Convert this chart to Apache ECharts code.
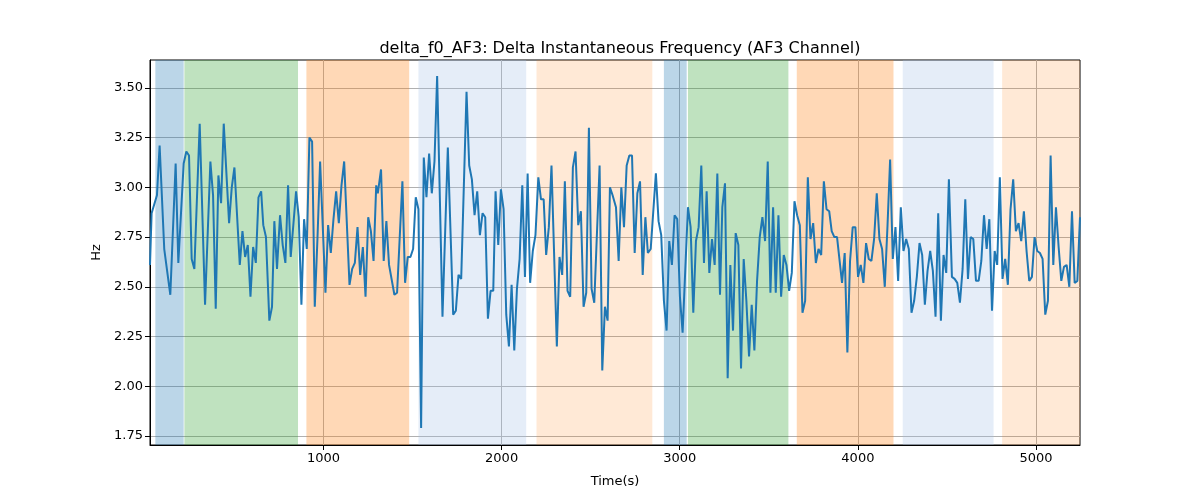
<!DOCTYPE html>
<html><head><meta charset="utf-8">
<script src="https://cdn.jsdelivr.net/npm/echarts@6/dist/echarts.min.js"></script>
<style>html,body{margin:0;padding:0;background:#fff}#c{width:1200px;height:500px}</style>
</head><body><div id="c"></div>
<script>
const times = [26,35,65,80,106,140,170,185,215,230,245,260,275,305,335,365,380,395,410,425,440,470,485,500,530,545,560,575,590,605,620,635,650,
662,677,696,711,724,739,756,771,786,801,816,846,861,876,891,906,921,936,951,966,981,1011,1026,1041,1056,1071,1086,1101,1116,1146,1161,1176,1191,1206,1221,1236,1251,1266,1281,1296,
1305,1323,1338,1353,1368,1398,1413,1443,1458,1473,1488,1503,1518,1533,1548,1563,1578,1593,1608,1623,1638,1668,1698,1728,1743,1758,1773,1803,1818,1833,1848,1863,1878,1893,1908,1923,1938,1953,
1966,1981,1996,2011,2026,2041,2056,2071,2086,2101,2116,2131,2146,2160,2175,2190,2206,2221,2236,2250,2265,2280,2310,2325,2340,2355,2370,2385,2400,2415,2430,2445,2460,2475,2490,2505,2520,2550,2565,2580,2595,
2608,2623,2642,2657,2672,2687,2702,2717,2732,2747,2762,2777,2792,2807,2821,2837,2866,2881,2896,2911,2926,2941,2956,2971,2986,3001,3016,3046,3061,3076,3091,3106,3121,3136,3151,3166,3181,3196,3211,3226,
3239,3254,3269,3284,3299,3314,3329,3344,3359,3374,3389,3404,3419,3434,3449,3464,3479,3494,3509,3524,3539,3554,3569,3584,3599,3614,3629,3644,3659,3674,3689,3704,3719,3734,3749,3764,3779,3794,3809,3824,3839,3853,3868,3883,
3893,3911,3926,3941,3956,3971,3986,4001,4016,4031,4046,4061,4076,4091,4106,4121,4136,4151,4166,4181,4196,4211,4226,4241,4256,4271,4286,4301,4316,4331,4346,4361,4376,4391,4406,4421,4436,4451,4466,4481,4496,4511,
4528,4543,4558,4573,4588,4603,4618,4633,4648,4663,4678,4693,4708,4723,4738,4753,4768,4782,4797,4812,4827,4842,4857,4872,4887,4902,4917,4932,4947,4962,4977,4992,5007,5022,5037,5052,5067,5082,5097,5112,5127,5142,5157,5172,5187,5202,5217,5232,5247];
const values = [2.61,2.87,2.96,3.21,2.69,2.46,3.12,2.62,3.12,3.18,3.16,2.64,2.59,3.32,2.41,3.13,2.96,2.39,3.06,2.92,3.32,2.82,3.00,3.10,2.61,2.78,2.65,2.71,2.45,2.70,2.62,2.95,2.98,
2.81,2.75,2.33,2.40,2.83,2.59,2.86,2.71,2.62,3.01,2.65,2.98,2.85,2.41,2.84,2.69,3.25,3.23,2.40,2.74,3.13,2.47,2.81,2.67,2.84,2.98,2.82,3.01,3.13,2.51,2.59,2.62,2.80,2.56,2.70,2.45,2.85,2.78,2.63,3.01,
2.97,3.09,2.63,2.83,2.61,2.46,2.47,3.03,2.52,2.65,2.65,2.69,2.95,2.89,1.79,3.15,2.95,3.17,2.97,3.13,3.56,2.35,3.20,2.36,2.38,2.56,2.54,3.48,3.11,3.04,2.86,2.98,2.76,2.87,2.85,2.34,2.48,2.48,
2.98,2.71,2.99,2.89,2.36,2.20,2.51,2.18,2.49,2.64,3.01,2.55,3.07,2.52,2.68,2.76,3.05,2.94,2.94,2.66,2.80,3.11,2.20,2.65,2.56,3.03,2.48,2.45,3.10,3.18,2.81,2.88,2.40,2.47,3.30,2.49,2.42,3.11,2.08,2.40,2.33,
3.00,2.96,2.90,2.63,3.00,2.80,3.11,3.16,3.16,2.67,2.97,3.03,2.56,2.85,2.67,2.69,3.07,2.83,2.76,2.43,2.28,2.73,2.61,2.86,2.84,2.45,2.27,2.90,2.80,2.37,2.73,2.80,3.11,2.62,2.98,2.57,2.74,2.61,3.07,2.46,
2.90,3.02,2.04,2.61,2.28,2.77,2.71,2.09,2.64,2.43,2.15,2.41,2.18,2.53,2.75,2.85,2.73,3.13,2.47,2.90,2.47,2.86,2.45,2.66,2.61,2.48,2.57,2.93,2.86,2.81,2.37,2.43,3.05,2.74,2.82,2.62,2.69,2.66,3.03,2.89,2.88,2.78,2.75,2.75,
2.75,2.52,2.67,2.17,2.63,2.80,2.80,2.55,2.61,2.52,2.72,2.64,2.63,2.74,2.97,2.74,2.69,2.50,2.80,3.14,2.64,2.80,2.53,2.90,2.68,2.74,2.69,2.37,2.43,2.55,2.72,2.66,2.41,2.58,2.68,2.58,2.35,2.87,2.33,2.66,2.57,3.04,
2.55,2.54,2.52,2.42,2.59,2.94,2.54,2.75,2.74,2.53,2.53,2.63,2.86,2.69,2.84,2.38,2.68,2.61,3.05,2.54,2.64,2.51,2.89,3.04,2.78,2.82,2.73,2.88,2.68,2.53,2.55,2.75,2.68,2.67,2.64,2.36,2.43,3.16,2.61,2.90,2.70,2.53,2.60,2.61,2.50,2.88,2.52,2.53,2.85];

const regionStarts = [56, 219, 904, 1533, 2196, 2911, 3046, 3657, 4252, 4810];
const regionEnds   = [215, 857, 1481, 2138, 2846, 3039, 3610, 4200, 4762, 5247];
const regionKinds  = ['blue','green','orange','lightblue','lightorange','blue','green','orange','lightblue','lightorange'];

const xTicks = [1000, 2000, 3000, 4000, 5000];
const yTicks = [1.75, 2.00, 2.25, 2.50, 2.75, 3.00, 3.25, 3.50];

const kindColor = {
  blue: 'rgba(31,119,180,0.3)',
  green: 'rgba(44,160,44,0.3)',
  orange: 'rgba(255,127,14,0.3)',
  lightblue: 'rgba(160,190,230,0.28)',
  lightorange: 'rgba(255,127,14,0.17)'
};

const chart = echarts.init(document.getElementById('c'), null, {renderer: 'canvas'});
const font = 'DejaVu Sans';
chart.setOption({
  animation: false,
  backgroundColor: '#fff',
  title: {
    text: 'delta_f0_AF3: Delta Instantaneous Frequency (AF3 Channel)',
    left: 615, top: 36, textAlign: 'center',
    textStyle: {fontFamily: font, fontSize: 16, fontWeight: 'normal', color: '#000'}
  },
  grid: {left: 150, right: 120, top: 60, bottom: 55, show: true, borderColor: '#000', borderWidth: 1, backgroundColor: 'transparent'},
  xAxis: {
    type: 'value', min: 26, max: 5247,
    name: 'Time(s)', nameLocation: 'middle', nameGap: 30,
    nameTextStyle: {fontFamily: font, fontSize: 13, color: '#000'},
    axisLine: {show: true, onZero: false, lineStyle: {color: '#000', width: 1}},
    axisTick: {show: true, length: 5, lineStyle: {color: '#000'}, customValues: xTicks},
    axisLabel: {fontFamily: font, fontSize: 13, color: '#000', margin: 7, customValues: xTicks, formatter: v => String(Math.round(v))},
    splitLine: {show: true, lineStyle: {color: '#b0b0b0', width: 1}}
  },
  yAxis: {
    type: 'value', min: 1.705, max: 3.64,
    name: 'Hz', nameLocation: 'middle', nameGap: 45,
    nameTextStyle: {fontFamily: font, fontSize: 13, color: '#000'},
    axisLine: {show: true, onZero: false, lineStyle: {color: '#000', width: 1}},
    axisTick: {show: true, length: 5, lineStyle: {color: '#000'}, customValues: yTicks},
    axisLabel: {fontFamily: font, fontSize: 13, color: '#000', margin: 7, customValues: yTicks, formatter: v => v.toFixed(2)},
    splitLine: {show: true, lineStyle: {color: '#b0b0b0', width: 1}}
  },
  series: [{
    type: 'line',
    data: times.map((t, i) => [t, values[i]]),
    showSymbol: false,
    symbol: 'none',
    lineStyle: {color: '#1f77b4', width: 2},
    itemStyle: {color: '#1f77b4'},
    z: 3,
    markArea: {
      silent: true,
      data: regionStarts.map((s, i) => [
        {xAxis: s, itemStyle: {color: kindColor[regionKinds[i]]}},
        {xAxis: regionEnds[i]}
      ])
    }
  }]
});
</script></body></html>
